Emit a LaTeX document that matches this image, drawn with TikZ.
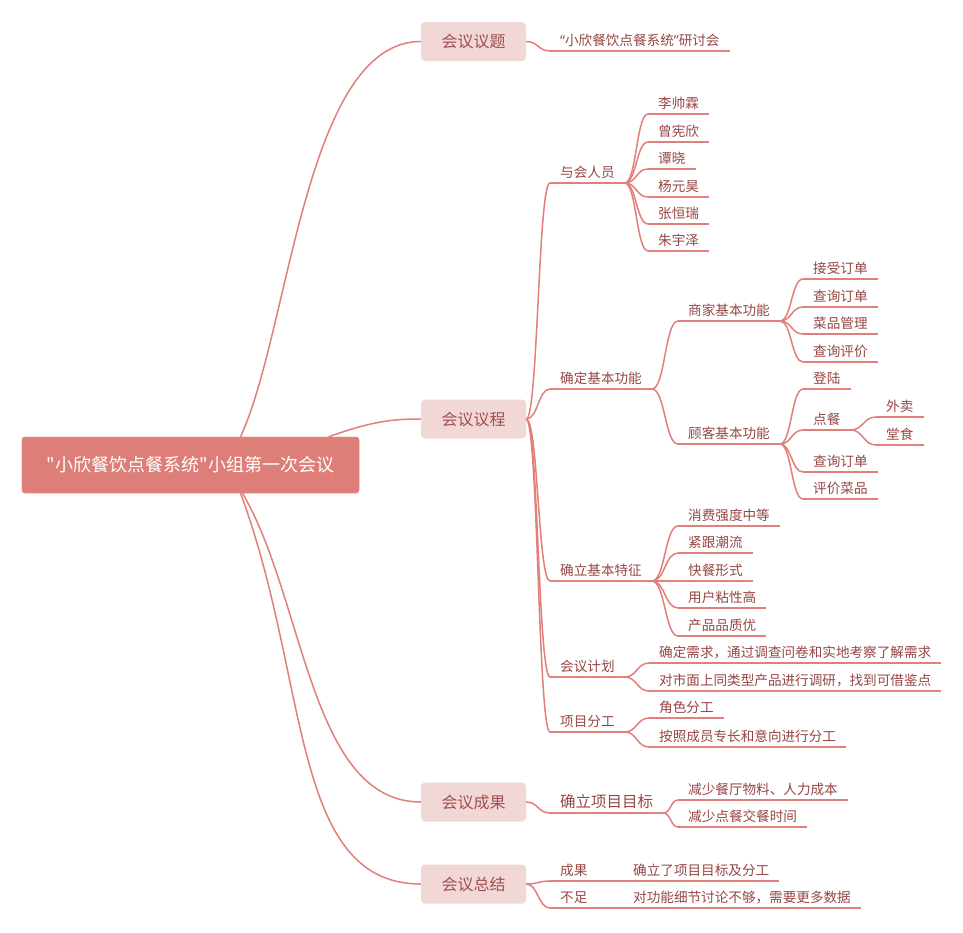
\documentclass[tikz,border=0pt]{standalone}
\usepackage{fontspec}
\newfontfamily\cjk{Noto Sans CJK SC}
\newfontfamily\latin{Noto Sans}
\usetikzlibrary{calc}
\definecolor{linec}{RGB}{226,127,122}
\definecolor{rootfill}{RGB}{222,126,121}
\definecolor{boxfill}{RGB}{242,215,215}
\definecolor{boxtxt}{RGB}{160,80,78}
\definecolor{txt}{RGB}{150,70,68}
\tikzset{
  leaf/.style={anchor=south west, inner xsep=10pt, inner ysep=2pt, text height=11pt, text depth=3pt, font=\cjk\fontsize{13.6}{16}\selectfont, text=txt},
  bigleaf/.style={leaf, font=\cjk\fontsize{15.5}{18}\selectfont},
  box/.style={fill=boxfill, rounded corners=4pt, minimum width=105pt, minimum height=39pt, inner sep=0pt, font=\cjk\fontsize{16}{18}\selectfont, text=boxtxt},
  rootbox/.style={fill=rootfill, draw=rootfill!85!white, rounded corners=3pt, minimum width=337pt, minimum height=56pt, inner sep=0pt, font=\cjk\fontsize{18}{20}\selectfont, text=white},
  con/.style={draw=linec, line width=1.5pt},
}
\newcommand\leaf[5][leaf]{\node[#1] (#2) at (#3,#4) {#5}; \draw[con] (#2.south west) -- (#2.south east);}
\newcommand\link[2]{\draw[con] let \p1=(#1), \p2=(#2) in (\p1) .. controls ({(\x1+\x2)/2},\y1) and ({(\x1+\x2)/2},\y2) .. (\p2);}
\begin{document}
\begin{tikzpicture}[x=1pt,y=-1pt]
\useasboundingbox[fill=white] (0,0) rectangle (963,932);
% main topics
\node[box] (p1) at (473.5,41.5) {会议议题};
\node[box] (p2) at (473.5,419) {会议议程};
\node[box] (p3) at (473.5,802) {会议成果};
\node[box] (p4) at (473.5,884) {会议总结};
\node[rootbox] (root) at (190.5,465) {"小欣餐饮点餐系统"小组第一次会议};
% root connectors
\draw[con] ([xshift=50pt]root.north) .. controls (290,330) and (305,41.5) .. (p1.west);
\draw[con] ([xshift=138pt]root.north) .. controls (370,422) and (390,419) .. (p2.west);
\draw[con] ([xshift=52pt]root.south) .. controls (305,600) and (310,802) .. (p3.west);
\draw[con] ([xshift=50pt]root.south) .. controls (310,680) and (290,884) .. (p4.west);
\node[rootbox] at (root) {"小欣餐饮点餐系统"小组第一次会议};
% topic 1
\leaf{t1}{550}{51}{{\latin “}小欣餐饮点餐系统{\latin ”}研讨会}
\link{p1.east}{t1.south west}
% topic 2
\leaf{a1}{550}{183}{与会人员}
\leaf{a2}{550}{389}{确定基本功能}
\leaf{a3}{550}{581}{确立基本特征}
\leaf{a4}{550}{677}{会议计划}
\leaf{a5}{550}{732}{项目分工}
\foreach \q in {a1,a2,a3,a4,a5}{\link{p2.east}{\q.south west}}
% people
\leaf{m1}{648}{114}{李帅霖}
\leaf{m2}{648}{142}{曾宪欣}
\leaf{m3}{648}{169}{谭晓}
\leaf{m4}{648}{197}{杨元昊}
\leaf{m5}{648}{224}{张恒瑞}
\leaf{m6}{648}{251}{朱宇泽}
\foreach \q in {m1,m2,m3,m4,m5,m6}{\link{a1.south east}{\q.south west}}
% functions
\leaf{f1}{678}{321}{商家基本功能}
\leaf{f2}{678}{444}{顾客基本功能}
\link{a2.south east}{f1.south west}
\link{a2.south east}{f2.south west}
\leaf{s1}{803}{279}{接受订单}
\leaf{s2}{803}{307}{查询订单}
\leaf{s3}{803}{334}{菜品管理}
\leaf{s4}{803}{362}{查询评价}
\foreach \q in {s1,s2,s3,s4}{\link{f1.south east}{\q.south west}}
\leaf{c1}{803}{389}{登陆}
\leaf{c2}{803}{430}{点餐}
\leaf{c3}{803}{472}{查询订单}
\leaf{c4}{803}{499}{评价菜品}
\foreach \q in {c1,c2,c3,c4}{\link{f2.south east}{\q.south west}}
\leaf{d1}{876}{417}{外卖}
\leaf{d2}{876}{445}{堂食}
\link{c2.south east}{d1.south west}
\link{c2.south east}{d2.south west}
% features
\leaf{e1}{678}{526}{消费强度中等}
\leaf{e2}{678}{553}{紧跟潮流}
\leaf{e3}{678}{581}{快餐形式}
\leaf{e4}{678}{608}{用户粘性高}
\leaf{e5}{678}{636}{产品品质优}
\foreach \q in {e1,e2,e3,e4,e5}{\link{a3.south east}{\q.south west}}
% plan
\leaf{g1}{649}{663}{确定需求，通过调查问卷和实地考察了解需求}
\leaf{g2}{649}{691}{对市面上同类型产品进行调研，找到可借鉴点}
\link{a4.south east}{g1.south west}
\link{a4.south east}{g2.south west}
% division
\leaf{h1}{649}{718}{角色分工}
\leaf{h2}{649}{747}{按照成员专长和意向进行分工}
\link{a5.south east}{h1.south west}
\link{a5.south east}{h2.south west}
% topic 3
\leaf[bigleaf]{r1}{550}{813}{确立项目目标}
\link{p3.east}{r1.south west}
\leaf{r2}{678}{800}{减少餐厅物料、人力成本}
\leaf{r3}{678}{827}{减少点餐交餐时间}
\link{r1.south east}{r2.south west}
\link{r1.south east}{r3.south west}
% topic 4
\leaf{k1}{550}{881}{成果}
\leaf{k2}{550}{908}{不足}
\link{p4.east}{k1.south west}
\link{p4.east}{k2.south west}
\leaf{k3}{623}{881}{确立了项目目标及分工}
\leaf{k4}{623}{908}{对功能细节讨论不够，需要更多数据}
\draw[con] (k1.south east) -- (k3.south west);
\draw[con] (k2.south east) -- (k4.south west);
\end{tikzpicture}
\end{document}
